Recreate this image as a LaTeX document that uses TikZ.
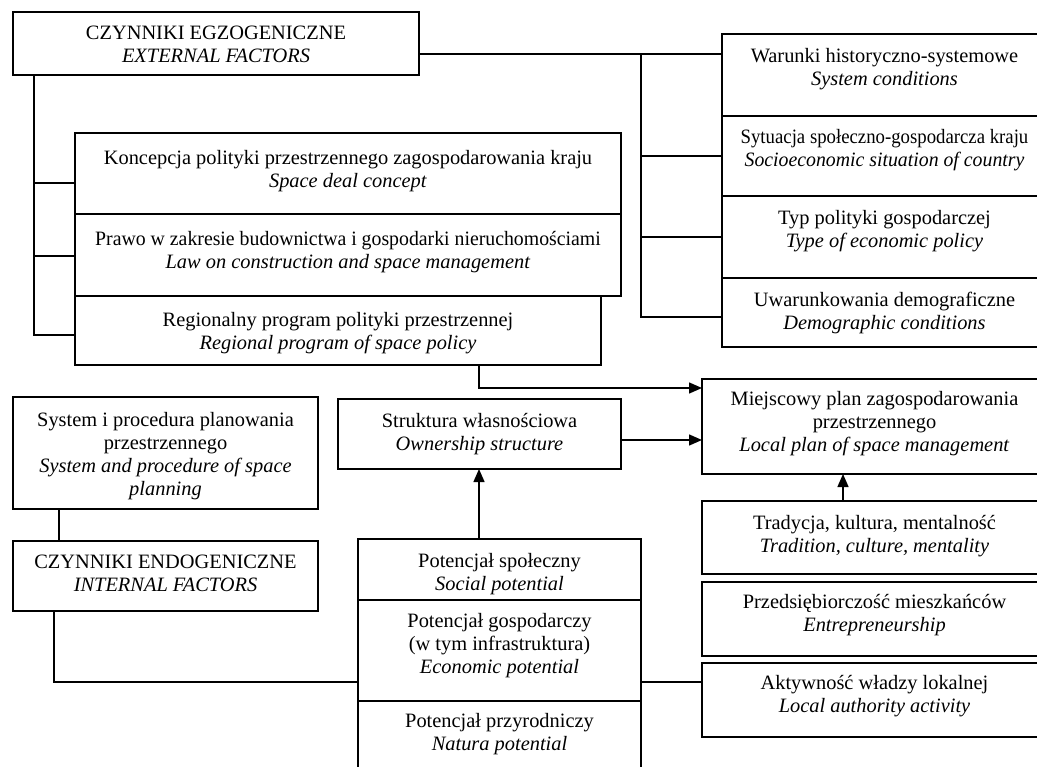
\documentclass[tikz,border=0pt]{standalone}
\usepackage{fontspec}
\setmainfont{Liberation Serif}
\usetikzlibrary{arrows.meta}
\newcommand\bx[5]{\node[box, anchor=north west, minimum width={#4-#2}, minimum height={#5-#3}] (#1) at (#2,#3) {};}
\begin{document}
\begin{tikzpicture}[x=1pt,y=-1pt,
  box/.style={draw, line width=1.4pt, inner sep=0pt, outer sep=0pt},
  txt/.style={anchor=north, align=center, inner sep=0pt, font=\fontsize{20.4}{23}\selectfont},
  wire/.style={line width=1.4pt},
  arr/.style={line width=1.4pt, -{Triangle[length=13pt,width=11pt]}}]
\useasboundingbox (0,0) rectangle (1037,767);
\clip (0,0) rectangle (1037,767);
% boxes
\bx{egzo}{13}{12}{419}{75}
\bx{R1}{722}{34}{1047}{116}
\bx{R2}{722}{116}{1047}{196}
\bx{R3}{722}{196}{1047}{278}
\bx{R4}{722}{278}{1047}{347}
\bx{L1}{75}{133}{621}{214}
\bx{L2}{75}{214}{621}{296}
\bx{L3}{75}{296}{601}{365}
\bx{M}{702}{379}{1047}{474}
\bx{S}{338}{399}{621}{469}
\bx{Sys}{13}{397}{318}{509}
\bx{Endo}{13}{541}{318}{611}
\bx{P1}{358}{539}{641}{600}
\bx{P2}{358}{600}{641}{701}
\bx{P3}{358}{701}{641}{790}
\bx{T}{702}{501}{1047}{574}
\bx{E}{702}{582}{1047}{656}
\bx{A}{702}{663}{1047}{737}
% texts
\node[txt] (egzoT) at ([yshift=-14pt]egzo.north) {CZYNNIKI EGZOGENICZNE\\\textit{EXTERNAL FACTORS}};
\node[txt] (R1T) at ([yshift=-14pt]R1.north) {Warunki historyczno-systemowe\\\textit{System conditions}};
\node[txt] (R2T) at ([yshift=-13pt]R2.north) {\scalebox{0.92}[1]{Sytuacja społeczno-gospodarcza kraju}\\\scalebox{0.97}[1]{\textit{Socioeconomic situation of country}}};
\node[txt] (R3T) at ([yshift=-14pt]R3.north) {Typ polityki gospodarczej\\\textit{Type of economic policy}};
\node[txt] (R4T) at ([yshift=-14pt]R4.north) {Uwarunkowania demograficzne\\\textit{Demographic conditions}};
\node[txt] (L1T) at ([yshift=-17pt]L1.north) {Koncepcja polityki przestrzennego zagospodarowania kraju\\\textit{Space deal concept}};
\node[txt] (L2T) at ([yshift=-17pt]L2.north) {\scalebox{0.97}[1]{Prawo w zakresie budownictwa i gospodarki nieruchomościami}\\\textit{Law on construction and space management}};
\node[txt] (L3T) at ([yshift=-16pt]L3.north) {Regionalny program polityki przestrzennej\\\textit{Regional program of space policy}};
\node[txt] (MT) at ([yshift=-12pt]M.north) {Miejscowy plan zagospodarowania\\przestrzennego\\\textit{Local plan of space management}};
\node[txt] (ST) at ([yshift=-14pt]S.north) {Struktura własnościowa\\\textit{Ownership structure}};
\node[txt] (SysT) at ([yshift=-15pt]Sys.north) {System i procedura planowania\\przestrzennego\\\textit{System and procedure of space}\\\textit{planning}};
\node[txt] (EndoT) at ([yshift=-14pt]Endo.north) {CZYNNIKI ENDOGENICZNE\\\textit{INTERNAL FACTORS}};
\node[txt] (P1T) at ([yshift=-14pt]P1.north) {Potencjał społeczny\\\textit{Social potential}};
\node[txt] (P2T) at ([yshift=-13pt]P2.north) {Potencjał gospodarczy\\(w tym infrastruktura)\\\textit{Economic potential}};
\node[txt] (P3T) at ([yshift=-12pt]P3.north) {Potencjał przyrodniczy\\\textit{Natura potential}};
\node[txt] (TT) at ([yshift=-14pt]T.north) {Tradycja, kultura, mentalność\\\textit{Tradition, culture, mentality}};
\node[txt] (ET) at ([yshift=-12pt]E.north) {Przedsiębiorczość mieszkańców\\\textit{Entrepreneurship}};
\node[txt] (AT) at ([yshift=-12pt]A.north) {Aktywność władzy lokalnej\\\textit{Local authority activity}};
% right bus
\coordinate (busR) at (641,54);
\coordinate (r4b) at (641,317);
\draw[wire] (egzo.east |- busR) -- (R1.west |- busR);
\draw[wire] (busR) -- (r4b) -- (R4.west |- r4b);
\draw[wire] (R2.west) -- (R2.west -| busR);
\draw[wire] (R3.west) -- (R3.west -| busR);
% left bus
\coordinate (lb) at (34,335);
\coordinate (l1b) at (34,183);
\coordinate (l2b) at (34,256);
\draw[wire] (egzo.south -| lb) -- (lb) -- (L3.west |- lb);
\draw[wire] (l1b) -- (L1.west |- l1b);
\draw[wire] (l2b) -- (L2.west |- l2b);
% arrows to local plan
\coordinate (k1) at (479,388);
\coordinate (sm) at (621,440);
\coordinate (tm) at (843,480);
\draw[arr] (L3.south -| k1) -- (k1) -- (M.west |- k1);
\draw[arr] (S.east |- sm) -- (M.west |- sm);
\draw[arr] (P1.north -| k1) -- (S.south -| k1);
\draw[arr] (T.north -| tm) -- (M.south -| tm);
% endogenous links
\coordinate (se) at (59,520);
\coordinate (ep) at (54,682);
\draw[wire] (Sys.south -| se) -- (Endo.north -| se);
\draw[wire] (Endo.south -| ep) -- (ep) -- (P2.west |- ep);
\draw[wire] (P2.east |- ep) -- (A.west |- ep);
\end{tikzpicture}
\end{document}
